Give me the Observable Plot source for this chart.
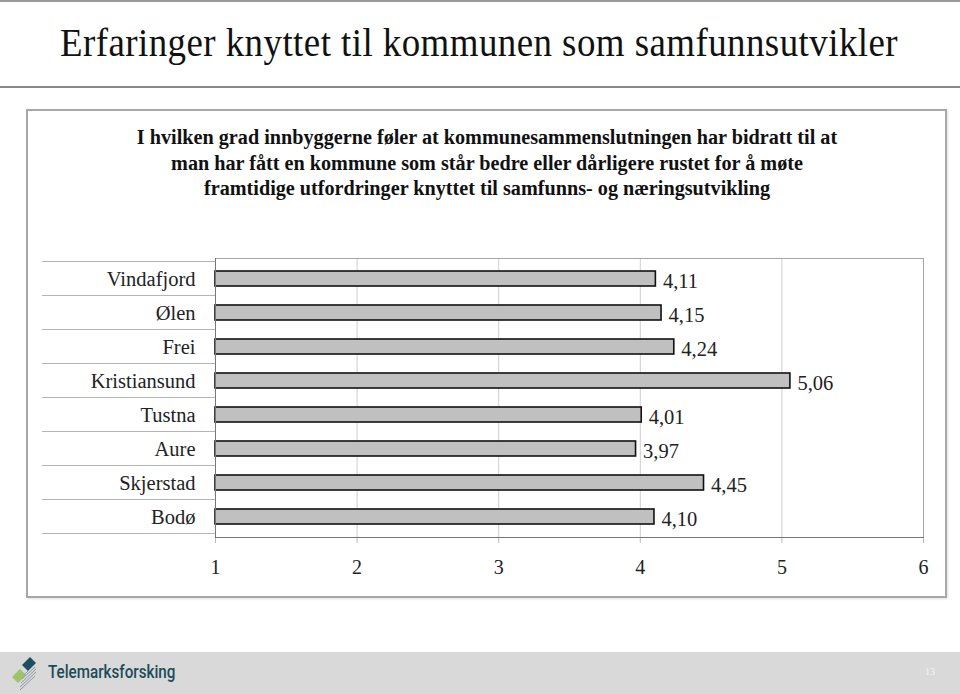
<!DOCTYPE html>
<html>
<head>
<meta charset="utf-8">
<script src="https://cdn.jsdelivr.net/npm/d3@7"></script>
<script src="https://cdn.jsdelivr.net/npm/@observablehq/plot@0.6"></script>
<style>
  html, body { margin: 0; padding: 0; background: #fff; }
  body { width: 960px; height: 694px; position: relative; overflow: hidden; font-family: "Liberation Serif", serif; }
  .abs { position: absolute; }
  #topline { left: 0; top: 0; width: 960px; height: 2px; background: #9a9a9a; }
  #title { left: 479px; top: 22px; font-size: 41px; line-height: 41px; color: #111; white-space: nowrap; transform: translateX(-50%) scaleX(0.9); transform-origin: center; letter-spacing: 0.5px; }
  #rule { left: 0; top: 86px; width: 960px; height: 2px; background: #8a8a8a; }
  #box { left: 26px; top: 109px; width: 917px; height: 485px; border: 2px solid #a8a8a8; box-shadow: 1px 1px 2px rgba(0,0,0,0.12); }
  #subtitle { left: 87px; top: 125px; width: 800px; text-align: center; font-weight: bold; font-size: 20.2px; line-height: 25.5px; color: #111; }
  #chart { left: 0; top: 240px; }
  #footer { left: 0; top: 652px; width: 960px; height: 42px; background: #d9d9d9; }
  #logoText { left: 48px; top: 660px; font-family: Roboto, "Noto Sans", sans-serif; font-weight: 500; font-size: 19px; color: #1c4b59; transform: scaleX(0.8); transform-origin: left center; white-space: nowrap; }
  #page { left: 925px; top: 666px; font-size: 10px; color: #f4f4f4; }
</style>
</head>
<body>
<div id="topline" class="abs"></div>
<div id="title" class="abs">Erfaringer knyttet til kommunen som samfunnsutvikler</div>
<div id="rule" class="abs"></div>
<div id="box" class="abs"></div>
<div id="subtitle" class="abs">I hvilken grad innbyggerne føler at kommunesammenslutningen har bidratt til at<br>man har fått en kommune som står bedre eller dårligere rustet for å møte<br>framtidige utfordringer knyttet til samfunns- og næringsutvikling</div>
<div id="chart" class="abs"></div>
<div id="footer" class="abs"></div>
<svg class="abs" style="left:8px;top:655px" width="36" height="38" viewBox="0 0 36 38">
  <polygon points="14,10 22,2 28,8 20,16" fill="#1d4f63"/>
  <polygon points="4,22 12,14 18,20 10,28" fill="#9cc46a"/>
  <g stroke="#8a9aa3" stroke-width="1">
    <line x1="16" y1="20" x2="26" y2="10"/>
    <line x1="14" y1="24" x2="27" y2="12"/>
    <line x1="13" y1="28" x2="28" y2="14"/>
    <line x1="12" y1="32" x2="28" y2="17"/>
    <line x1="12" y1="35" x2="27" y2="21"/>
  </g>
</svg>
<div id="logoText" class="abs">Telemarksforsking</div>
<div id="page" class="abs">13</div>
<script>
const kommuner = ["Vindafjord", "Ølen", "Frei", "Kristiansund", "Tustna", "Aure", "Skjerstad", "Bodø"];
const verdier = [4.11, 4.15, 4.24, 5.06, 4.01, 3.97, 4.45, 4.10];
const xTicks = [1, 2, 3, 4, 5, 6];
const gridTicks = [2, 3, 4, 5];

const data = kommuner.map((k, i) => ({kommune: k, verdi: verdier[i]}));
const fmt = v => d3.format(".2f")(v).replace(".", ",");

// row separators to the left of the plot, at band boundaries
const separators = (index, scales, values, dimensions) => {
  const g = d3.create("svg:g");
  const y = scales.y;
  const bw = y.bandwidth ? y.bandwidth() : 0;
  const step = y.step ? y.step() : (dimensions.height - dimensions.marginTop - dimensions.marginBottom) / kommuner.length;
  const bounds = kommuner.map(k => y(k) - (step - bw) / 2);
  bounds.push(bounds[bounds.length - 1] + step);
  const x1 = dimensions.marginLeft - 173;
  const x2 = dimensions.marginLeft;
  for (const b of bounds) {
    g.append("line").attr("x1", x1).attr("x2", x2).attr("y1", b).attr("y2", b)
      .attr("stroke", "#b5b5b5").attr("stroke-width", 1);
  }
  return g.node();
};

const chart = Plot.plot({
  width: 960,
  height: 342,
  marginLeft: 215,
  marginRight: 37,
  marginTop: 18,
  marginBottom: 45,
  style: {fontFamily: "Liberation Serif, serif", fontSize: "20px", color: "#222", background: "transparent"},
  x: {domain: [xTicks[0], xTicks[xTicks.length - 1]], ticks: xTicks},
  y: {domain: kommuner, paddingInner: 0.57, paddingOuter: 0.285},
  marks: [
    Plot.gridX(gridTicks, {stroke: "#cfcfcf", strokeOpacity: 1}),
    Plot.frame({stroke: "#a5a5a5"}),
    separators,
    Plot.axisX({ticks: xTicks, tickSize: 6, tickPadding: 16, stroke: "#bbb", label: null, tickFormat: d => String(d), fontSize: 20}),
    Plot.axisY({tickSize: 0, tickPadding: 20, label: null, fontSize: 20.5, letterSpacing: "0.6px"}),
    Plot.barX(data, {y: "kommune", x1: xTicks[0], x2: "verdi", fill: "#c0c0c0", stroke: "#111", strokeWidth: 1.6}),
    Plot.frame({anchor: "left", stroke: "#777"}),
    Plot.frame({anchor: "bottom", stroke: "#777"}),
    Plot.text(data, {y: "kommune", x: "verdi", text: d => fmt(d.verdi), textAnchor: "start", dx: 7, dy: 2, fontSize: 20.5, letterSpacing: "1.3px", fill: "#222"})
  ]
});
document.getElementById("chart").appendChild(chart);
</script>
</body>
</html>
